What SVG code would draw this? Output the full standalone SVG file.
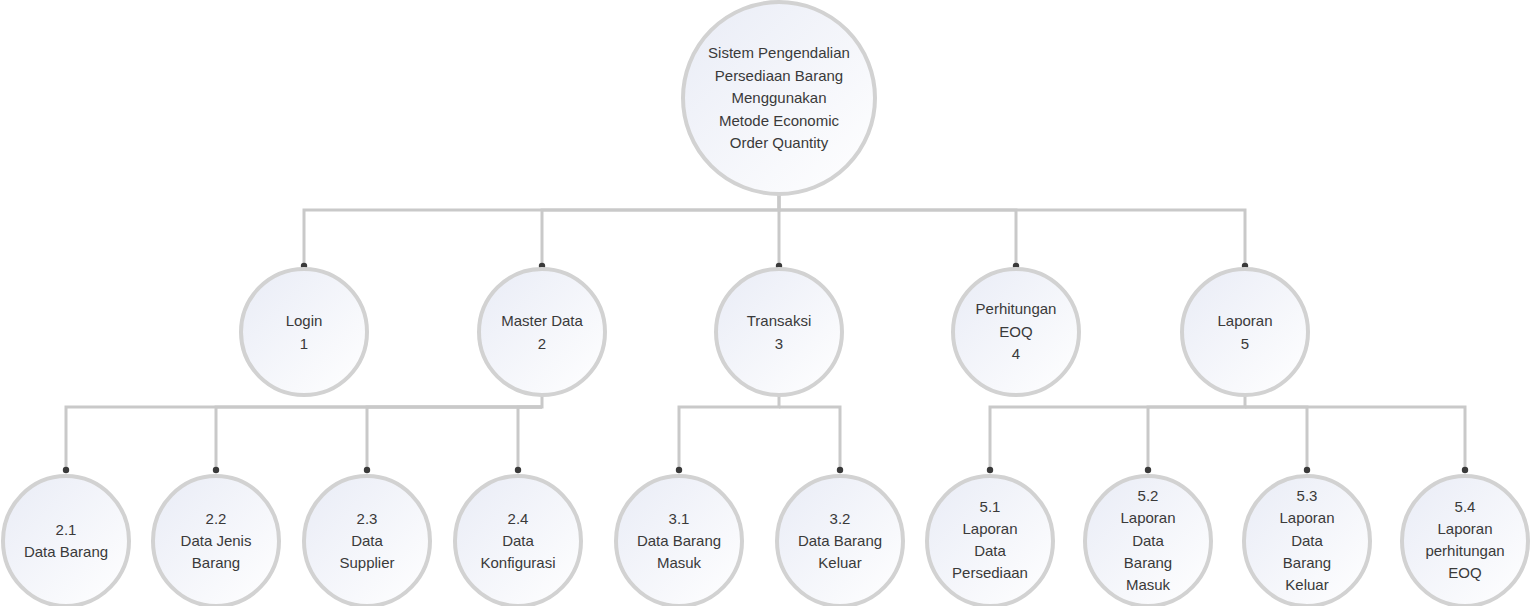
<svg xmlns="http://www.w3.org/2000/svg" width="1530" height="606" viewBox="0 0 1530 606">
<defs>
<linearGradient id="g" x1="0" y1="0" x2="1" y2="1">
<stop offset="0" stop-color="#e9ecf6"/>
<stop offset="1" stop-color="#ffffff"/>
</linearGradient>
<marker id="dot" markerUnits="userSpaceOnUse" markerWidth="10" markerHeight="10" refX="5" refY="5" orient="auto">
<circle cx="5" cy="5" r="3.2" fill="#3a3a3a"/>
</marker>
<style>
.n{fill:url(#g);stroke:#d2d2d2;stroke-width:4}
.c{fill:none;stroke:#c9c9c9;stroke-width:3;marker-end:url(#dot)}
text{font-family:"Liberation Sans",Arial,sans-serif;font-size:15px;fill:#3a3a3a;text-anchor:middle}
</style>
</defs>
<rect width="1530" height="606" fill="#ffffff"/>
<g id="connectors">
<path class="c" d="M779,195 V210 H304 V266"/>
<path class="c" d="M779,195 V210 H542 V266"/>
<path class="c" d="M779,195 V266"/>
<path class="c" d="M779,210 H1016 V266"/>
<path class="c" d="M779,210 H1245 V266"/>
<path class="c" d="M542,395 V407 H66 V470"/>
<path class="c" d="M542,407 H216 V470"/>
<path class="c" d="M542,407 H367 V470"/>
<path class="c" d="M542,407 H518 V470"/>
<path class="c" d="M779,395 V407 H679 V470"/>
<path class="c" d="M779,407 H840 V470"/>
<path class="c" d="M1245,395 V407 H990 V470"/>
<path class="c" d="M1245,407 H1148 V470"/>
<path class="c" d="M1245,407 H1307 V470"/>
<path class="c" d="M1245,407 H1465 V470"/>
</g>
<g id="root">
<circle class="n" cx="779" cy="98" r="96"/>
<text x="779" y="58">Sistem Pengendalian</text>
<text x="779" y="80.5">Persediaan Barang</text>
<text x="779" y="103">Menggunakan</text>
<text x="779" y="125.5">Metode Economic</text>
<text x="779" y="148">Order Quantity</text>
</g>
<g id="n1">
<ellipse class="n" cx="304" cy="332" rx="63" ry="63"/>
<text x="304" y="326">Login</text>
<text x="304" y="348.5">1</text>
</g>
<g id="n2">
<ellipse class="n" cx="542" cy="332" rx="63" ry="63"/>
<text x="542" y="326">Master Data</text>
<text x="542" y="348.5">2</text>
</g>
<g id="n3">
<ellipse class="n" cx="779" cy="332" rx="63" ry="63"/>
<text x="779" y="326">Transaksi</text>
<text x="779" y="348.5">3</text>
</g>
<g id="n4">
<ellipse class="n" cx="1016" cy="332" rx="63" ry="63"/>
<text x="1016" y="314">Perhitungan</text>
<text x="1016" y="336.5">EOQ</text>
<text x="1016" y="359">4</text>
</g>
<g id="n5">
<ellipse class="n" cx="1245" cy="332" rx="63" ry="63"/>
<text x="1245" y="326">Laporan</text>
<text x="1245" y="348.5">5</text>
</g>
<g id="n21">
<ellipse class="n" cx="66" cy="541" rx="63" ry="65"/>
<text x="66" y="535">2.1</text>
<text x="66" y="556.5">Data Barang</text>
</g>
<g id="n22">
<ellipse class="n" cx="216" cy="541" rx="63" ry="65"/>
<text x="216" y="524">2.2</text>
<text x="216" y="546">Data Jenis</text>
<text x="216" y="568">Barang</text>
</g>
<g id="n23">
<ellipse class="n" cx="367" cy="541" rx="63" ry="65"/>
<text x="367" y="524">2.3</text>
<text x="367" y="546">Data</text>
<text x="367" y="568">Supplier</text>
</g>
<g id="n24">
<ellipse class="n" cx="518" cy="541" rx="63" ry="65"/>
<text x="518" y="524">2.4</text>
<text x="518" y="546">Data</text>
<text x="518" y="568">Konfigurasi</text>
</g>
<g id="n31">
<ellipse class="n" cx="679" cy="541" rx="63" ry="65"/>
<text x="679" y="524">3.1</text>
<text x="679" y="546">Data Barang</text>
<text x="679" y="568">Masuk</text>
</g>
<g id="n32">
<ellipse class="n" cx="840" cy="541" rx="63" ry="65"/>
<text x="840" y="524">3.2</text>
<text x="840" y="546">Data Barang</text>
<text x="840" y="568">Keluar</text>
</g>
<g id="n51">
<ellipse class="n" cx="990" cy="541" rx="63" ry="65"/>
<text x="990" y="512">5.1</text>
<text x="990" y="534">Laporan</text>
<text x="990" y="556">Data</text>
<text x="990" y="578">Persediaan</text>
</g>
<g id="n52">
<ellipse class="n" cx="1148" cy="541" rx="63" ry="65"/>
<text x="1148" y="501">5.2</text>
<text x="1148" y="523">Laporan</text>
<text x="1148" y="545.5">Data</text>
<text x="1148" y="568">Barang</text>
<text x="1148" y="590">Masuk</text>
</g>
<g id="n53">
<ellipse class="n" cx="1307" cy="541" rx="63" ry="65"/>
<text x="1307" y="501">5.3</text>
<text x="1307" y="523">Laporan</text>
<text x="1307" y="545.5">Data</text>
<text x="1307" y="568">Barang</text>
<text x="1307" y="590">Keluar</text>
</g>
<g id="n54">
<ellipse class="n" cx="1465" cy="541" rx="63" ry="65"/>
<text x="1465" y="512">5.4</text>
<text x="1465" y="534">Laporan</text>
<text x="1465" y="556">perhitungan</text>
<text x="1465" y="578">EOQ</text>
</g>
</svg>
